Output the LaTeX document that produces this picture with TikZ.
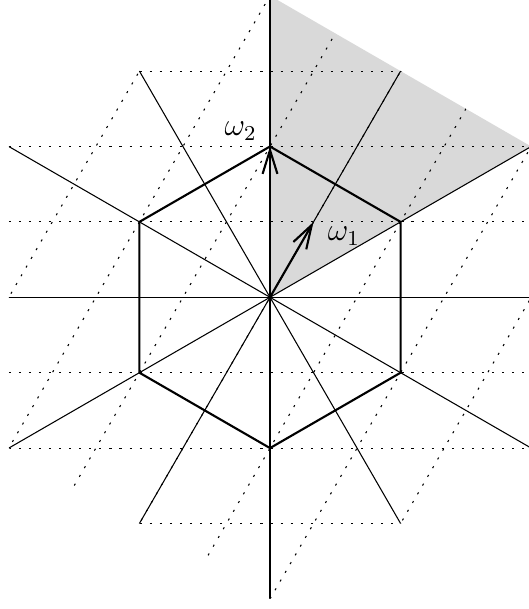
\documentclass[tikz,border=0pt]{standalone}
\usepackage{amsmath}
\usepackage{tikz}
\usetikzlibrary{arrows.meta}

\begin{document}
\begin{tikzpicture}[>={Straight Barb[length=9pt,width=5.6pt]}, gridline/.style={dash pattern=on 0.8pt off 3pt}, every node/.style={font=\large}]
\useasboundingbox (-3.581,-4.134) rectangle (3.422,3.943);
\coordinate (o) at (0,0);
\coordinate (w1) at (0.5774,1);
\coordinate (w2) at (0,2);
\fill[gray!30] (o) -- (0,4) -- (3.4641,2) -- cycle;
\begin{scope}
    \clip (30:4) -- (90:4) -- (150:4) -- (210:4) -- (270:4) -- (330:4) -- cycle;
    \foreach \y in {-3,-2,-1,1,2,3}
        \draw[gridline] (-4,\y) -- (4,\y);
    \foreach \k in {-3,...,3}
        \draw[gridline] ({1.1547*\k-2.3094},-4) -- ({1.1547*\k+2.3094},4);
    \foreach \a in {0,30,...,150}
        \draw (\a:5) -- ({\a+180}:5);
\end{scope}
\draw[thick] (30:2) -- (90:2) -- (150:2) -- (210:2) -- (270:2) -- (330:2) -- cycle;
\draw[thick,->] (o) -- (w1);
\draw[thick,->] (o) -- (w2);
\node (l1) at (0.98,0.81) {$\omega_1$};
\node (l2) at (-0.39,2.2) {$\omega_2$};
\end{tikzpicture}
\end{document}
